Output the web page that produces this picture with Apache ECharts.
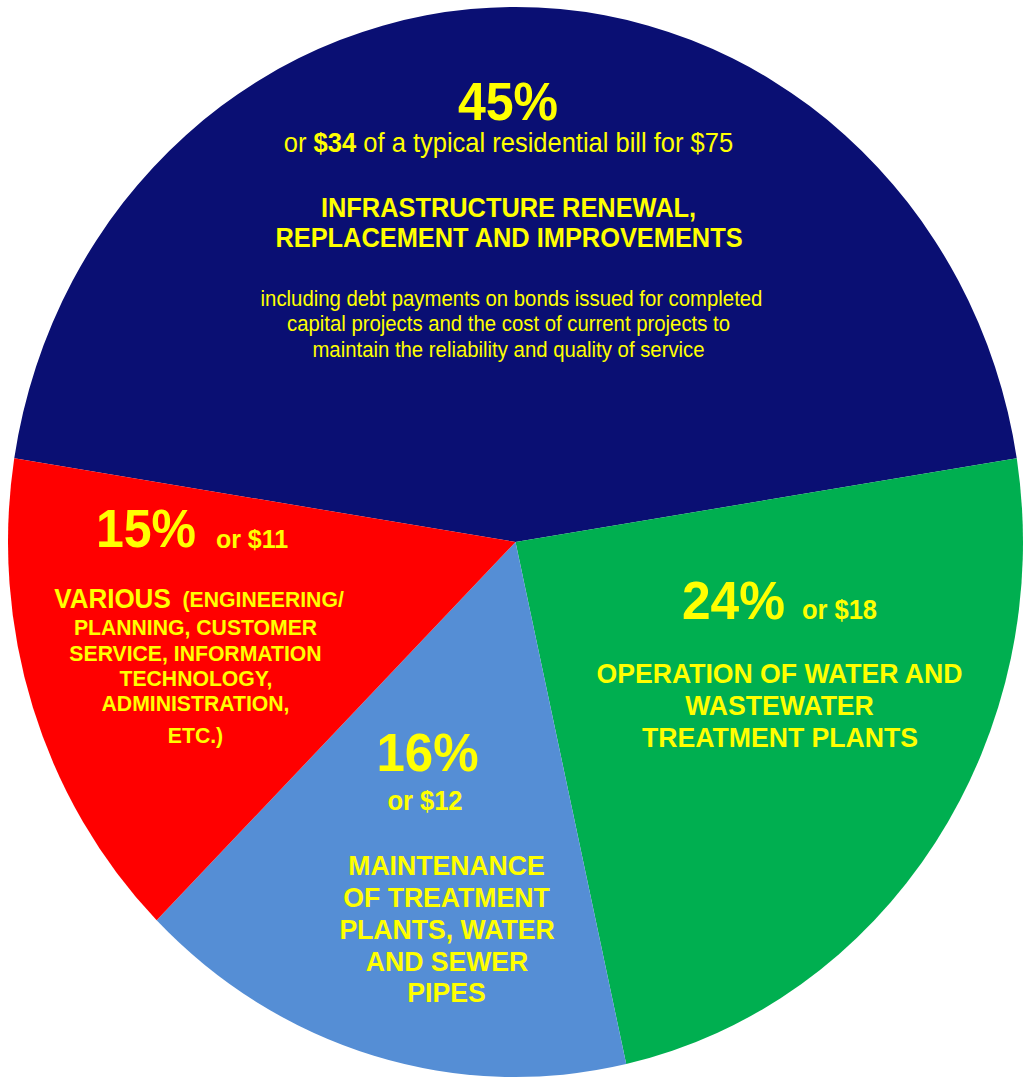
<!DOCTYPE html>
<html>
<head>
<meta charset="utf-8">
<script src="https://cdn.jsdelivr.net/npm/echarts@6/dist/echarts.min.js"></script>
<style>
html,body{margin:0;padding:0;background:#ffffff;overflow:hidden;width:1029px;height:1078px}
#c{width:1029px;height:1023px;transform:scaleY(1.05419);transform-origin:0 0}
</style>
</head>
<body>
<div id="c"></div>
<script>
// ---- data ----
const categories = [
  'Infrastructure renewal, replacement and improvements',
  'Operation of water and wastewater treatment plants',
  'Maintenance of treatment plants, water and sewer pipes',
  'Various'
];
const shares = [45, 24, 16, 15];          // percent of bill
const dollars = [34, 18, 12, 11];         // dollars of a typical bill
const billTotal = 75;
const sliceColors = ['#0A0F73', '#00AF50', '#558ED5', '#FF0000'];

// ---- layout helpers ----
const S = 1.05419;                 // vertical stretch of the original picture
const Y = v => v / S;
const YEL = '#FFFF00';
const FF = '"Liberation Sans", Arial, Helvetica, sans-serif';

function txt(x, y, text, size, weight, extra) {
  return {
    type: 'text', x: x, y: Y(y), silent: true, z: 10,
    style: Object.assign({
      text: text, fill: YEL, fontSize: size, fontWeight: weight || 'bold',
      fontFamily: FF, align: 'center', verticalAlign: 'middle'
    }, extra || {})
  };
}

const graphics = [
  // Infrastructure (blue)
  txt(508, 102, shares[0] + '%', 50),
  {
    type: 'text', x: 508.5, y: Y(143), silent: true, z: 10,
    style: {
      text: '{n|or }{b|$' + dollars[0] + '}{n| of a typical residential bill for $' + billTotal + '}',
      align: 'center', verticalAlign: 'middle', fill: YEL,
      rich: {
        n: { fontSize: 25.5, fontWeight: 'normal', fontFamily: FF, fill: YEL },
        b: { fontSize: 25.5, fontWeight: 'bold', fontFamily: FF, fill: YEL }
      }
    }
  },
  txt(508.5, 208, 'INFRASTRUCTURE RENEWAL,', 25.4),
  txt(509, 238, 'REPLACEMENT AND IMPROVEMENTS', 25.4),
  txt(511.5, 298, 'including debt payments on bonds issued for completed', 20.35, 'normal'),
  txt(508.5, 323, 'capital projects and the cost of current projects to', 20.35, 'normal'),
  txt(508.5, 349, 'maintain the reliability and quality of service', 20.35, 'normal'),

  // Operation (green)
  txt(733.5, 600, shares[1] + '%', 51.5),
  txt(839.5, 609.5, 'or $' + dollars[1], 25.5),
  txt(779.5, 673, 'OPERATION OF WATER AND', 26.6),
  txt(779.5, 705, 'WASTEWATER', 26.6),
  txt(780, 737, 'TREATMENT PLANTS', 26.6),

  // Maintenance (light blue)
  txt(427.5, 753, shares[2] + '%', 51),
  txt(425, 800.5, 'or $' + dollars[2], 25.5),
  txt(446.5, 865, 'MAINTENANCE', 26.6),
  txt(446.5, 897, 'OF TREATMENT', 26.6),
  txt(447, 929, 'PLANTS, WATER', 26.6),
  txt(447, 961, 'AND SEWER', 26.6),
  txt(446.5, 992, 'PIPES', 26.6),

  // Various (red)
  txt(146, 529, shares[3] + '%', 50),
  txt(252, 539, 'or $' + dollars[3], 25),
  {
    type: 'text', x: 199, y: Y(599), silent: true, z: 10,
    style: {
      text: '{a|VARIOUS}{b|  (ENGINEERING/}',
      align: 'center', verticalAlign: 'middle', fill: YEL,
      rich: {
        a: { fontSize: 26, fontWeight: 'bold', fontFamily: FF, fill: YEL },
        b: { fontSize: 21.2, fontWeight: 'bold', fontFamily: FF, fill: YEL }
      }
    }
  },
  txt(195.5, 627, 'PLANNING, CUSTOMER', 21.2),
  txt(195.5, 653, 'SERVICE, INFORMATION', 21.2),
  txt(196, 678, 'TECHNOLOGY,', 21.2),
  txt(195.5, 703, 'ADMINISTRATION,', 21.2),
  txt(195.5, 735, 'ETC.)', 21.2)
];

const chart = echarts.init(document.getElementById('c'), null, { renderer: 'svg' });
chart.setOption({
  animation: false,
  backgroundColor: '#ffffff',
  series: [{
    type: 'pie',
    center: [515.5, Y(542)],
    radius: [0, 507.5],
    startAngle: 171,
    clockwise: true,
    silent: true,
    label: { show: false },
    labelLine: { show: false },
    itemStyle: { borderWidth: 0 },
    emphasis: { disabled: true },
    data: categories.map((name, i) => ({
      name: name,
      value: shares[i],
      itemStyle: { color: sliceColors[i] }
    }))
  }],
  graphic: graphics
});
</script>
</body>
</html>
